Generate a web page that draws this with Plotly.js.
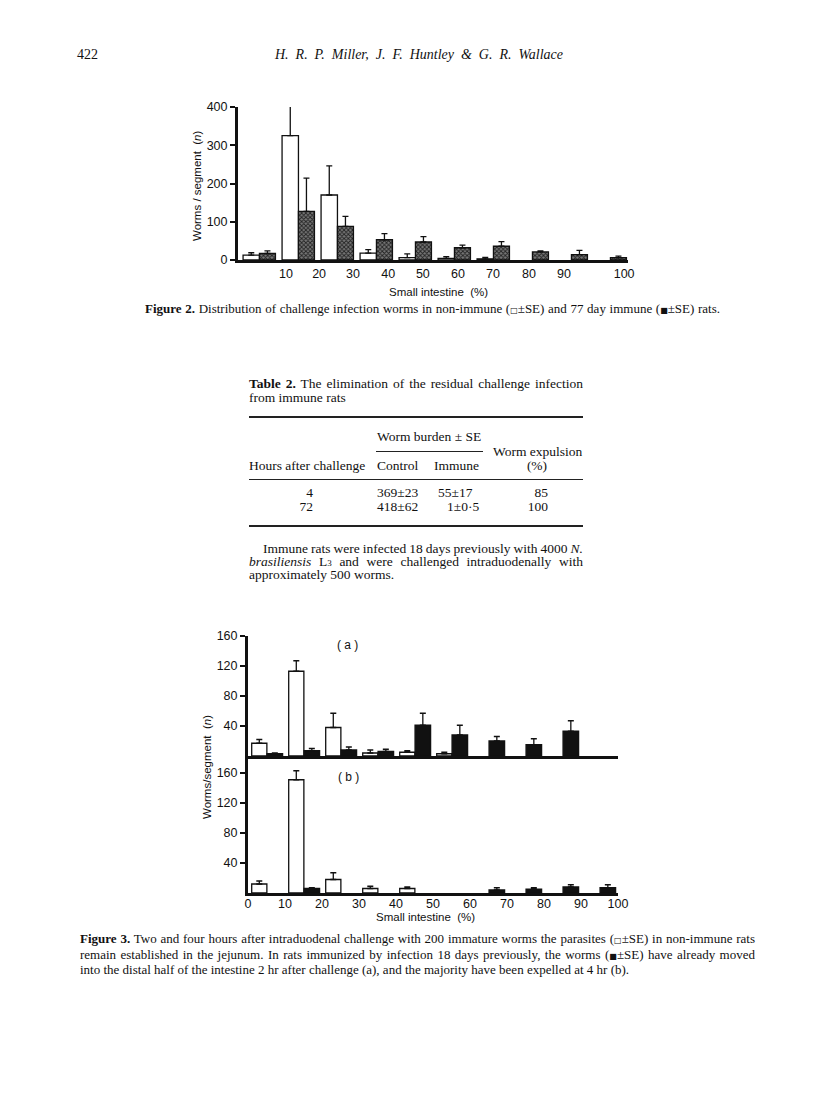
<!DOCTYPE html>
<html>
<head>
<meta charset="utf-8">
<script src="https://cdn.plot.ly/plotly-3.0.1.min.js"></script>
<style>
  body { margin: 0; background: #fff; }
  #page { position: relative; width: 816px; height: 1102px; overflow: hidden;
          font-family: "Liberation Serif", "Times New Roman", serif; color: #111; }
  #chart { position: absolute; left: 0; top: 0; width: 816px; height: 1102px; }
  .t { position: absolute; white-space: nowrap; font-size: 13px; line-height: 14px; }
  .tb { font-size: 13.5px; }
  .r { text-align: right; }
  .rule { position: absolute; height: 1px; background: #222; }
  .sq { font-family: "DejaVu Sans", sans-serif; font-size: 8px; }
</style>
</head>
<body>
<div id="page">
  <div id="chart"></div>

  <!-- running head -->
  <div class="t" style="left:77px; top:47px; font-size:14px; line-height:16px;">422</div>
  <div class="t" data-w="288" style="left:275px; top:47px; font-size:14px; line-height:16px; font-style:italic;">H. R. P. Miller, J. F. Huntley &amp; G. R. Wallace</div>

  <!-- figure 2 caption -->
  <div class="t" data-w="575" style="left:145px; top:302px;"><b>Figure 2.</b> Distribution of challenge infection worms in non-immune (<span class="sq">□</span>±SE) and 77 day immune (<span class="sq">■</span>±SE) rats.</div>

  <!-- table 2 -->
  <div class="t tb" data-w="334" style="left:249px; top:377px;"><b>Table 2.</b> The elimination of the residual challenge infection</div>
  <div class="t tb" style="left:249px; top:391px;">from immune rats</div>
  <div class="rule" style="left:249px; top:416px; width:334px; height:1.5px;"></div>
  <div class="t tb" style="left:377px; top:430px;">Worm burden ± SE</div>
  <div class="rule" style="left:376px; top:451px; width:107px;"></div>
  <div class="t tb" style="left:493px; top:445px;">Worm expulsion</div>
  <div class="t tb" style="left:249px; top:459px;">Hours after challenge</div>
  <div class="t tb" style="left:377px; top:459px;">Control</div>
  <div class="t tb" style="left:434px; top:459px;">Immune</div>
  <div class="t tb" style="left:517px; top:459px; width:40px; text-align:center;">(%)</div>
  <div class="rule" style="left:249px; top:479px; width:334px;"></div>
  <div class="t tb r" style="left:263px; top:486px; width:50px;">4</div>
  <div class="t tb" style="left:377px; top:486px;">369±23</div>
  <div class="t tb" style="left:438px; top:486px;">55±17</div>
  <div class="t tb r" style="left:498px; top:486px; width:50px;">85</div>
  <div class="t tb r" style="left:263px; top:500px; width:50px;">72</div>
  <div class="t tb" style="left:377px; top:500px;">418±62</div>
  <div class="t tb" style="left:447px; top:500px;">1±0·5</div>
  <div class="t tb r" style="left:498px; top:500px; width:50px;">100</div>
  <div class="rule" style="left:249px; top:525px; width:334px; height:1.5px;"></div>
  <div class="t tb" data-w="320" style="left:263px; top:542px;">Immune rats were infected 18 days previously with 4000 <i>N.</i></div>
  <div class="t tb" data-w="334" style="left:249px; top:555px;"><i>brasiliensis</i> L<span style="font-size:9px">3</span> and were challenged intraduodenally with</div>
  <div class="t tb" style="left:249px; top:568px;">approximately 500 worms.</div>

  <!-- figure 3 caption -->
  <div class="t" data-w="675" style="left:80px; top:932px;"><b>Figure 3.</b> Two and four hours after intraduodenal challenge with 200 immature worms the parasites (<span class="sq">□</span>±SE) in non-immune rats</div>
  <div class="t" data-w="675" style="left:80px; top:948px;">remain established in the jejunum. In rats immunized by infection 18 days previously, the worms (<span class="sq">■</span>±SE) have already moved</div>
  <div class="t" style="left:80px; top:963px;">into the distal half of the intestine 2 hr after challenge (a), and the majority have been expelled at 4 hr (b).</div>
</div>

<script>
// segments of the small intestine, 10% each (bar pairs sit inside each one)
const decileMid = [5, 15, 25, 35, 45, 55, 65, 75, 85, 95];

// figure 2 x labels are printed a bit off the true decile marks
const fig2TickLabels = ['10', '20', '30', '40', '50', '60', '70', '80', '90', '100'];
const fig2TickPos = [12.3, 20.8, 29.5, 38.5, 47.4, 56.4, 65.4, 74.6, 83.6, 99.0];

// Figure 2: non-immune vs 77 day immune, mean and SE
const fig2NonImmune   = [13, 325, 170, 18, 6, 4, 3, 0, 0, 0];
const fig2NonImmuneSE = [6, 85, 76, 9, 10, 5, 4, 0, 0, 0];
const fig2Immune      = [17, 127, 88, 53, 47, 32, 36, 21, 14, 6];
const fig2ImmuneSE    = [7, 87, 26, 16, 14, 7, 12, 3, 11, 4];

// Figure 3 (a) 2 hr
const fig3aNonImmune   = [17, 113, 38, 4, 5, 3, 0, 0, 0, 0];
const fig3aNonImmuneSE = [5, 14, 19, 4, 2, 2, 0, 0, 0, 0];
const fig3aImmune      = [3, 7, 8, 6, 41, 28, 20, 15, 33, 0];
const fig3aImmuneSE    = [1, 3, 4, 3, 16, 13, 6, 8, 14, 0];

// Figure 3 (b) 4 hr
const fig3bNonImmune   = [12, 151, 18, 6, 6, 0, 0, 0, 0, 0];
const fig3bNonImmuneSE = [4, 12, 9, 3, 2, 0, 0, 0, 0, 0];
const fig3bImmune      = [0, 6, 0, 0, 0, 0, 4, 5, 8, 7];
const fig3bImmuneSE    = [0, 1, 0, 0, 0, 0, 3, 2, 3, 4];

const fig3TickVals = [0, 10, 20, 30, 40, 50, 60, 70, 80, 90, 100];
const fig3YTicks = [40, 80, 120, 160];

const W = 816, H = 1102;
const px = x => x / W;
const py = y => 1 - y / H;
const ink = '#111';
const sans = 'Liberation Sans, Arial, sans-serif';
const tickFont = {family: sans, size: 12.5, color: ink};

const whiteBar = {color: '#fff', line: {color: ink, width: 1.3}};
const stippleBar = {color: '#666', line: {color: ink, width: 1.3},
                    pattern: {shape: 'x', size: 3, solidity: 0.5, fgcolor: '#222', bgcolor: '#777'}};
const blackBar = {color: ink, line: {color: ink, width: 1.3}};

// empty segments get no bar at all (a zero bar would still draw its outline)
const orNull = v => (v === 0 ? null : v);

function barTrace(vals, se, xa, ya, offset, width, marker) {
  return {
    type: 'bar', x: decileMid, y: vals.map(orNull), xaxis: xa, yaxis: ya,
    offset: offset, width: width, marker: marker,
    error_y: {type: 'data', symmetric: false, array: se, arrayminus: se.map(() => 0),
              color: ink, thickness: 1.3, width: 3},
    hoverinfo: 'skip', showlegend: false
  };
}

const data = [
  barTrace(fig2NonImmune, fig2NonImmuneSE, 'x', 'y', -3.7, 4.2, whiteBar),
  barTrace(fig2Immune, fig2ImmuneSE, 'x', 'y', 0.5, 4.1, stippleBar),
  barTrace(fig3aNonImmune, fig3aNonImmuneSE, 'x2', 'y2', -4.0, 4.1, whiteBar),
  barTrace(fig3aImmune, fig3aImmuneSE, 'x2', 'y2', 0.15, 4.2, blackBar),
  barTrace(fig3bNonImmune, fig3bNonImmuneSE, 'x3', 'y3', -4.0, 4.1, whiteBar),
  barTrace(fig3bImmune, fig3bImmuneSE, 'x3', 'y3', 0.15, 4.2, blackBar)
];

function axisBase() {
  return {showline: true, linewidth: 3, linecolor: ink, showgrid: false, zeroline: false,
          tickfont: tickFont, fixedrange: true};
}

let xaxis = Object.assign(axisBase(), {
  domain: [px(238), px(628)], range: [0, 100], anchor: 'y',
  ticks: '', tickvals: fig2TickPos, ticktext: fig2TickLabels
});
let yaxis = Object.assign(axisBase(), {
  domain: [py(260), py(107)], range: [0, 400], anchor: 'x',
  ticks: 'outside', ticklen: 5, tickwidth: 2, tickcolor: ink,
  tickvals: [0, 100, 200, 300, 400]
});
let xaxis2 = Object.assign(axisBase(), {
  domain: [px(248), px(618)], range: [0, 100], anchor: 'y2',
  ticks: '', showticklabels: false
});
let yaxis2 = Object.assign(axisBase(), {
  domain: [py(756), py(636)], range: [0, 160], anchor: 'x2',
  ticks: 'outside', ticklen: 5, tickwidth: 2, tickcolor: ink, tickvals: fig3YTicks
});
let xaxis3 = Object.assign(axisBase(), {
  domain: [px(248), px(618)], range: [0, 100], anchor: 'y3',
  ticks: '', tickvals: fig3TickVals, ticklabelstandoff: -3
});
let yaxis3 = Object.assign(axisBase(), {
  domain: [py(893), py(757)], range: [0, 181.3], anchor: 'x3',
  ticks: 'outside', ticklen: 5, tickwidth: 2, tickcolor: ink, tickvals: fig3YTicks
});

function note(text, x, y, extra) {
  return Object.assign({text: text, x: px(x), y: py(y), xref: 'paper', yref: 'paper',
    xanchor: 'center', yanchor: 'middle',
    showarrow: false, font: {family: sans, size: 11.5, color: ink}}, extra || {});
}

let layout = {
  width: W, height: H,
  margin: {l: 0, r: 0, t: 0, b: 0},
  paper_bgcolor: 'rgba(0,0,0,0)', plot_bgcolor: 'rgba(0,0,0,0)',
  barmode: 'overlay', bargap: 0,
  xaxis: xaxis, yaxis: yaxis, xaxis2: xaxis2, yaxis2: yaxis2, xaxis3: xaxis3, yaxis3: yaxis3,
  annotations: [
    note('Worms / segment  (<i>n</i>)', 197, 186, {textangle: -90}),
    note('Small intestine  (%)', 438, 292),
    note('Worms/segment  (<i>n</i>)', 207, 767, {textangle: -90}),
    note('Small intestine  (%)', 425, 917),
    note('( a )', 347, 645, {font: {family: sans, size: 12, color: ink}}),
    note('( b )', 348, 777, {font: {family: sans, size: 12, color: ink}})
  ]
};

Plotly.newPlot('chart', data, layout, {staticPlot: true, displayModeBar: false});

// stretch word spacing so each justified line ends where the printed one does
function fitLines() {
  document.querySelectorAll('[data-w]').forEach(el => {
    el.style.wordSpacing = '0px';
    const target = Number(el.dataset.w);
    const w = el.getBoundingClientRect().width;
    const gaps = (el.textContent.match(/ /g) || []).length;
    if (gaps > 0) el.style.wordSpacing = ((target - w) / gaps) + 'px';
  });
}
fitLines();
</script>
</body>
</html>
